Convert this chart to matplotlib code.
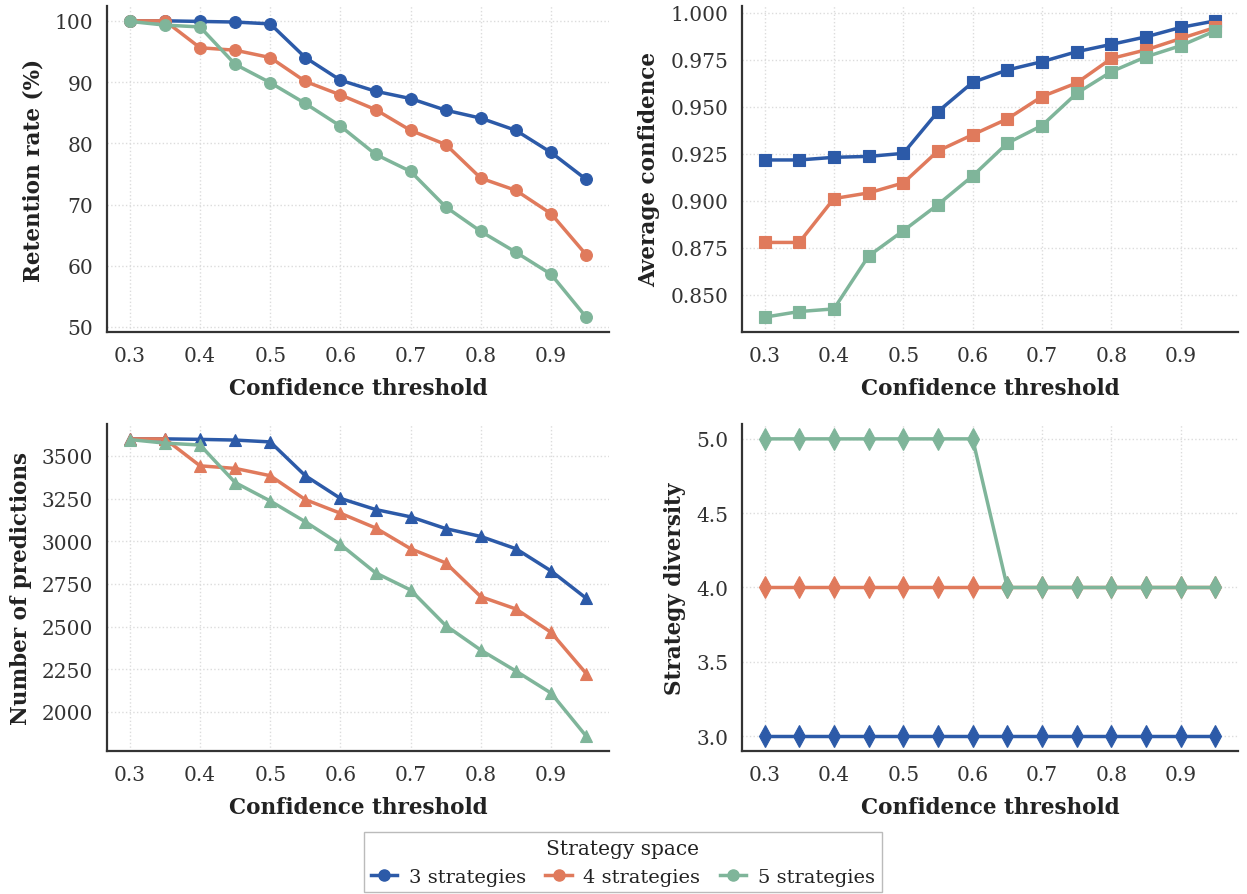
import matplotlib
matplotlib.use("Agg")
import matplotlib.pyplot as plt
from matplotlib.lines import Line2D
from matplotlib.ticker import StrMethodFormatter

plt.rcParams['font.family'] = ['DejaVu Serif']

thresholds = [0.30, 0.35, 0.40, 0.45, 0.50, 0.55, 0.60, 0.65, 0.70, 0.75, 0.80, 0.85, 0.90, 0.95]
series_labels = ["3 strategies", "4 strategies", "5 strategies"]
colors = ["#2c5aa8", "#e07a5c", "#7fb59a"]

retention_3 = [100.0, 100.0, 99.9, 99.8, 99.5, 94.0, 90.3, 88.5, 87.3, 85.4, 84.1, 82.1, 78.5, 74.1]
retention_4 = [100.0, 100.0, 95.6, 95.2, 94.0, 90.1, 87.9, 85.5, 82.1, 79.8, 74.3, 72.3, 68.5, 61.8]
retention_5 = [99.9, 99.3, 99.0, 92.9, 89.9, 86.5, 82.8, 78.2, 75.4, 69.6, 65.6, 62.2, 58.6, 51.6]

avg_conf_3 = [0.9217, 0.9217, 0.9231, 0.9236, 0.9252, 0.9474, 0.9629, 0.9695, 0.9739, 0.9792, 0.9831, 0.9871, 0.9921, 0.9956]
avg_conf_4 = [0.8779, 0.8779, 0.9012, 0.9042, 0.9095, 0.9265, 0.9351, 0.9435, 0.9554, 0.9626, 0.9756, 0.9802, 0.9862, 0.9921]
avg_conf_5 = [0.8382, 0.8412, 0.8426, 0.8707, 0.8841, 0.8980, 0.9132, 0.9306, 0.9400, 0.9571, 0.9686, 0.9765, 0.9824, 0.9903]

n_pred_3 = [3600, 3600, 3597, 3593, 3582, 3384, 3251, 3186, 3143, 3074, 3028, 2956, 2826, 2666]
n_pred_4 = [3600, 3600, 3442, 3427, 3384, 3244, 3164, 3078, 2956, 2873, 2675, 2603, 2466, 2225]
n_pred_5 = [3596, 3575, 3564, 3344, 3236, 3114, 2981, 2815, 2714, 2506, 2362, 2239, 2110, 1858]

diversity_3 = [3, 3, 3, 3, 3, 3, 3, 3, 3, 3, 3, 3, 3, 3]
diversity_4 = [4, 4, 4, 4, 4, 4, 4, 4, 4, 4, 4, 4, 4, 4]
diversity_5 = [5, 5, 5, 5, 5, 5, 5, 4, 4, 4, 4, 4, 4, 4]

x_ticks = [0.3, 0.4, 0.5, 0.6, 0.7, 0.8, 0.9]
retention_ticks = [50, 60, 70, 80, 90, 100]
conf_ticks = [0.850, 0.875, 0.900, 0.925, 0.950, 0.975, 1.000]
pred_ticks = [2000, 2250, 2500, 2750, 3000, 3250, 3500]
diversity_ticks = [3.0, 3.5, 4.0, 4.5, 5.0]

panels = [
    ("Retention rate (%)", [retention_3, retention_4, retention_5], "o", retention_ticks, "{x:.0f}"),
    ("Average confidence", [avg_conf_3, avg_conf_4, avg_conf_5], "s", conf_ticks, "{x:.3f}"),
    ("Number of predictions", [n_pred_3, n_pred_4, n_pred_5], "^", pred_ticks, "{x:.0f}"),
    ("Strategy diversity", [diversity_3, diversity_4, diversity_5], "d", diversity_ticks, "{x:.1f}"),
]

W, H = 1247, 895
fig = plt.figure(figsize=(W / 100, H / 100), dpi=100)

# axes boxes in pixels: left, top, right, bottom
boxes = [
    (107, 7, 609, 333),
    (742, 7, 1238, 333),
    (107, 425, 609, 752),
    (742, 425, 1238, 752),
]

for (ylabel, ys, marker, yticks, fmt), (l, t, r, b) in zip(panels, boxes):
    ax = fig.add_axes([l / W, 1 - b / H, (r - l) / W, (b - t) / H])
    for vals, c in zip(ys, colors):
        ms = 11 if marker == "d" else 8.5
        ax.plot(thresholds, vals, color=c, marker=marker, linewidth=2.5,
                markersize=ms, markeredgewidth=0.8, markeredgecolor=c)
    ax.set_xticks(x_ticks)
    ax.xaxis.set_major_formatter(StrMethodFormatter("{x:.1f}"))
    ax.set_yticks(yticks)
    ax.yaxis.set_major_formatter(StrMethodFormatter(fmt))
    ax.set_xlabel("Confidence threshold", fontsize=15.5, fontweight="bold", color="#222222", labelpad=9)
    ax.set_ylabel(ylabel, fontsize=15.5, fontweight="bold", color="#222222", labelpad=7)
    ax.tick_params(axis="both", length=0, labelsize=14.5, colors="#333333", pad=10)
    ax.grid(True, linestyle=":", color="#dcdcdc", linewidth=1.0)
    ax.set_axisbelow(True)
    for side in ("top", "right"):
        ax.spines[side].set_visible(False)
    for side in ("left", "bottom"):
        ax.spines[side].set_color("#333333")
        ax.spines[side].set_linewidth(1.6)

handles = [Line2D([0], [0], color=c, marker="o", linewidth=2.5, markersize=8) for c in colors]
leg = fig.legend(handles, series_labels, title="Strategy space", loc="lower center",
                 bbox_to_anchor=(0.4995, -0.009), ncol=3, fontsize=14, title_fontsize=14.5,
                 frameon=True, fancybox=False, edgecolor="#aaaaaa",
                 handlelength=1.35, columnspacing=1.0, handletextpad=0.6, borderpad=0.35,
                 labelspacing=0.5)
leg.get_frame().set_linewidth(1.0)
for txt in leg.get_texts():
    txt.set_color("#222222")
leg.get_title().set_color("#222222")

fig.savefig("out.png", dpi=100, facecolor="white")
